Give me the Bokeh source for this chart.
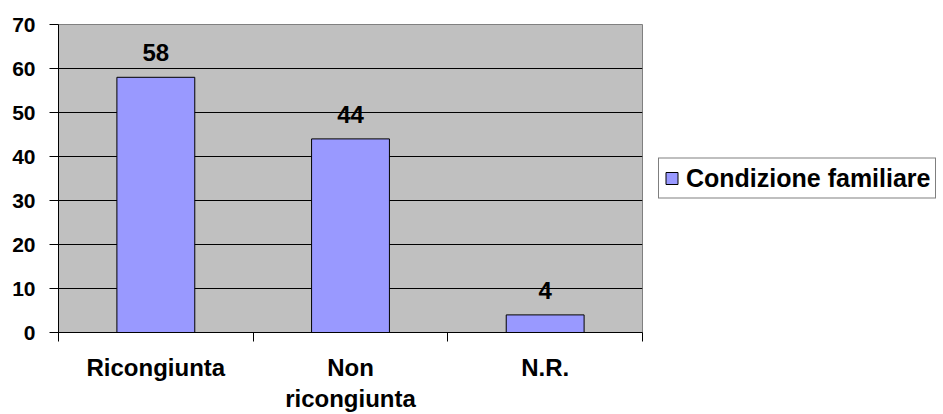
from bokeh.plotting import figure
from bokeh.models import Range1d, FixedTicker, Legend, LegendItem, ColumnDataSource
from bokeh.embed import file_html
from bokeh.resources import INLINE

# Data
categories = ["Ricongiunta", "Non\nricongiunta", "N.R."]
counts = [58, 44, 4]
series_name = "Condizione familiare"
y_ticks = [0, 10, 20, 30, 40, 50, 60, 70]

FONT = "Liberation Sans"
BAR_COLOR = "#9999FF"

centers = [i + 0.5 for i in range(len(categories))]
edges = list(range(len(categories) + 1))

source = ColumnDataSource(data=dict(
    x=centers,
    count=counts,
    label=[str(c) for c in counts],
))

p = figure(
    frame_width=584, frame_height=308,
    min_border_left=58, min_border_top=24, min_border_right=301, min_border_bottom=82,
    x_range=Range1d(0, len(categories)), y_range=Range1d(0, y_ticks[-1]),
    output_backend="svg", toolbar_location=None,
)

p.background_fill_color = "#C0C0C0"
p.border_fill_color = "white"
p.outline_line_color = "#808080"
p.outline_line_width = 1

# horizontal gridlines
p.xgrid.grid_line_color = None
p.ygrid.ticker = FixedTicker(ticks=y_ticks)
p.ygrid.grid_line_color = "black"
p.ygrid.grid_line_width = 1

bars = p.vbar(x="x", top="count", width=0.4, source=source,
              fill_color=BAR_COLOR, line_color="black", line_width=1)

# value labels above the bars
p.text(x="x", y="count", text="label", source=source,
       text_align="center", text_baseline="bottom", y_offset=-16,
       text_font={"value": FONT}, text_font_style="bold",
       text_font_size="24px", text_color="black")

# x axis: ticks on category boundaries, labels at category centres
xa = p.xaxis[0]
xa.ticker = FixedTicker(ticks=centers, minor_ticks=edges)
xa.major_label_overrides = {c: lab for c, lab in zip(centers, categories)}
xa.major_tick_in = 0
xa.major_tick_out = 0
xa.minor_tick_in = 0
xa.minor_tick_out = 9
xa.minor_tick_line_color = "black"
xa.axis_line_color = "black"
xa.major_label_standoff = 12
xa.major_label_text_font = FONT
xa.major_label_text_font_style = "bold"
xa.major_label_text_font_size = "24px"
xa.major_label_text_line_height = 1.15
xa.major_label_text_color = "black"

ya = p.yaxis[0]
ya.ticker = FixedTicker(ticks=y_ticks)
ya.major_tick_in = 0
ya.major_tick_out = 9
ya.minor_tick_line_color = None
ya.axis_line_color = "black"
ya.major_label_standoff = 14
ya.major_label_text_font = FONT
ya.major_label_text_font_style = "bold"
ya.major_label_text_font_size = "21px"
ya.major_label_text_color = "black"

legend = Legend(
    items=[LegendItem(label=series_name, renderers=[bars])],
    location="center_left",
    orientation="vertical",
    border_line_color="black", border_line_width=1,
    background_fill_color="white", background_fill_alpha=1,
    label_text_font=FONT, label_text_font_style="bold",
    label_text_font_size="25px", label_text_color="black",
    glyph_width=15, glyph_height=15, label_height=15,
    padding=5, spacing=0, margin=16, label_standoff=7,
)
p.add_layout(legend, "right")

open("out.html", "w").write(file_html(p, INLINE))
